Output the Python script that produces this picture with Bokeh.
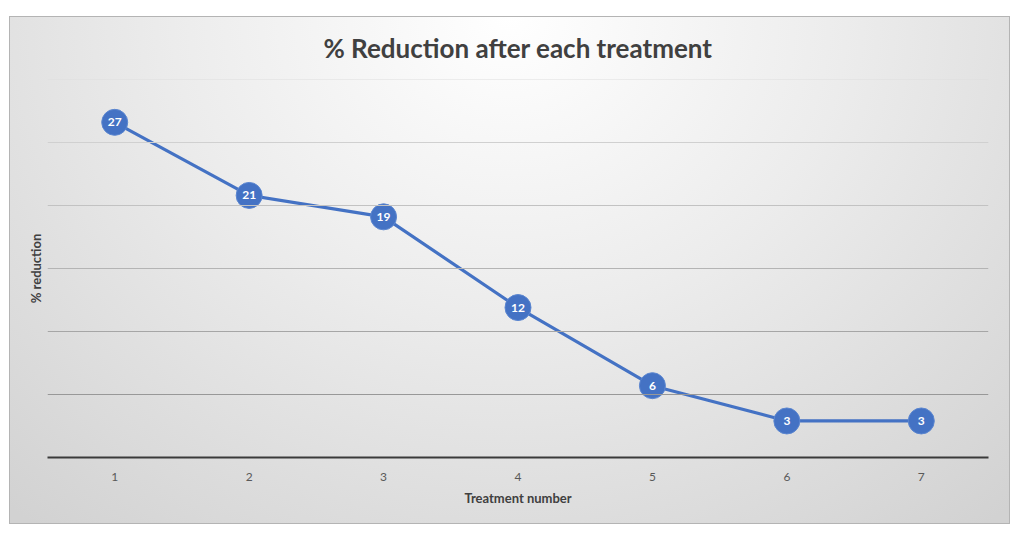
from bokeh.plotting import figure
from bokeh.models import ColumnDataSource, Span, FixedTicker, LabelSet, Title
from bokeh.embed import file_html
from bokeh.resources import INLINE
from bokeh.core.properties import value

# ---- data ----
treatments = [1, 2, 3, 4, 5, 6, 7]
reduction = [26.6, 20.8, 19.1, 11.9, 5.7, 2.9, 2.9]
labels = [f"{v:.0f}" for v in reduction]
x_ticks = [1, 2, 3, 4, 5, 6, 7]
grid_values = [5, 10, 15, 20, 25, 30]
title_text = "% Reduction after each treatment"
x_title = "Treatment number"
y_title = "% reduction"

BLUE = "#4472C4"

src = ColumnDataSource(dict(x=treatments, y=reduction, lab=labels))

p = figure(
    width=999, height=506,
    frame_width=941, frame_height=378,
    x_range=(0.5, 7.5), y_range=(0, 30),
    output_backend="svg", toolbar_location=None,
    min_border_left=37, min_border_right=21, min_border_top=62, min_border_bottom=66,
)
p.styles = {
    "background": "radial-gradient(ellipse 75% 130% at 50% 0%, #ffffff 0%, #ececec 45%, #d2d2d2 100%)",
    "border": "1px solid #b4b4b4",
    "margin-top": "16px",
    "margin-left": "9px",
}
p.background_fill_alpha = 0
p.border_fill_alpha = 0
p.outline_line_color = None

p.xgrid.visible = False
p.ygrid.visible = False

# gridlines with a light-to-dark tint like the reference
def grid_color(i, n):
    t = i / max(n - 1, 1)
    c = int(0x98 + (0xde - 0x98) * t)
    return "#%02x%02x%02x" % (c, c, c)

for i, gv in enumerate(grid_values):
    p.add_layout(Span(location=gv, dimension="width",
                      line_color=grid_color(i, len(grid_values)), line_width=1.2))

p.title = Title(text=title_text, align="center", vertical_align="top", text_font="Lato",
                text_font_size="26px", text_font_style="bold", text_color="#404040",
                text_line_height=1.0, standoff=27)

# x axis
p.xaxis.ticker = FixedTicker(ticks=x_ticks)
p.xaxis.axis_line_color = "#3a3a3a"
p.xaxis.axis_line_width = 2
p.xaxis.major_tick_line_color = None
p.xaxis.minor_tick_line_color = None
p.xaxis.major_label_standoff = 9
p.xaxis.major_label_text_font = "Lato"
p.xaxis.major_label_text_font_size = "12px"
p.xaxis.major_label_text_color = "#595959"
p.xaxis.axis_label = x_title
p.xaxis.axis_label_text_font = "Lato"
p.xaxis.axis_label_text_font_style = "bold"
p.xaxis.axis_label_text_font_size = "13px"
p.xaxis.axis_label_text_color = "#404040"
p.xaxis.axis_label_standoff = 6

# y axis: only the title
p.yaxis.ticker = FixedTicker(ticks=[])
p.yaxis.axis_line_color = None
p.yaxis.major_tick_line_color = None
p.yaxis.minor_tick_line_color = None
p.yaxis.axis_label = y_title
p.yaxis.axis_label_text_font = "Lato"
p.yaxis.axis_label_text_font_style = "bold"
p.yaxis.axis_label_text_font_size = "13px"
p.yaxis.axis_label_text_color = "#404040"
p.yaxis.axis_label_standoff = 4

p.line("x", "y", source=src, line_color=BLUE, line_width=3.2)
p.scatter("x", "y", source=src, size=26, fill_color=BLUE, line_color="#5b86d0", line_width=1)
p.add_layout(LabelSet(x="x", y="y", text="lab", source=src,
                      text_align="center", text_baseline="middle",
                      text_color="white", text_font=value("Lato"), text_font_style="bold",
                      text_font_size="12px"))

open("out.html", "w").write(file_html(p, INLINE))
